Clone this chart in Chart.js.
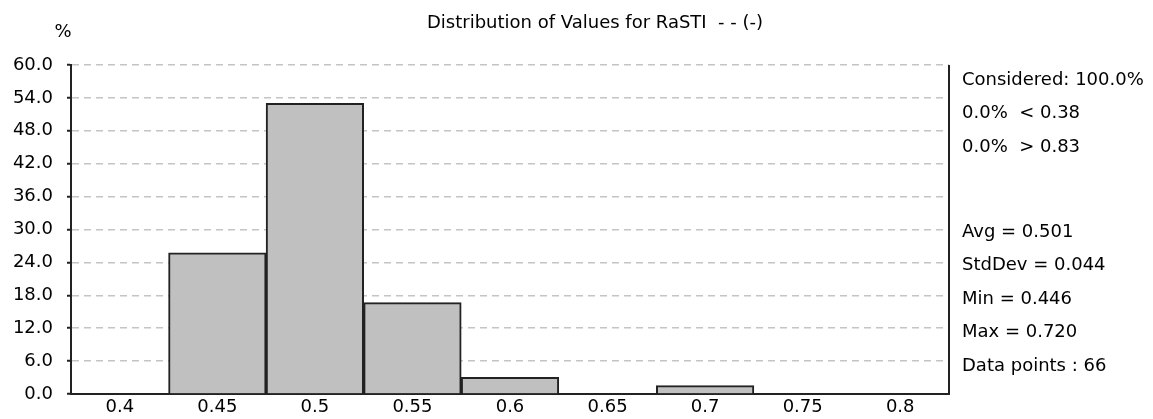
<!DOCTYPE HTML>
<html>

<head>
  <title>Distribution of Values for RaSTI</title>
  <script src="https://cdn.jsdelivr.net/npm/chart.js"></script>
  <style>
    body { margin: 0; background: #ffffff; }
  </style>
</head>

<body>
  <canvas id="myChart" width="1153" height="419"></canvas>

  <script type="text/javascript">
    // histogram bins (RaSTI values) and share of data points in percent
    var binLabels = ["0.4", "0.45", "0.5", "0.55", "0.6", "0.65", "0.7", "0.75", "0.8"];
    var percentValues = [0, 25.76, 53.03, 16.67, 3.03, 0, 1.52, 0, 0];

    var titleText = "Distribution of Values for RaSTI  - - (-)";
    var unitText = "%";
    var rangeLines = ["Considered: 100.0%", "0.0%  < 0.38", "0.0%  > 0.83"];
    var statLines = ["Avg = 0.501", "StdDev = 0.044", "Min = 0.446", "Max = 0.720", "Data points : 66"];

    var font = "DejaVu Sans";

    var textPlugin = {
      id: 'textPlugin',
      afterDraw: function (chart) {
        var c = chart.ctx;
        var area = chart.chartArea;
        c.save();

        // right frame line
        c.beginPath();
        c.lineWidth = 2;
        c.strokeStyle = '#222222';
        c.moveTo(area.right, area.top);
        c.lineTo(area.right, area.bottom + 1);
        c.stroke();

        c.fillStyle = '#000000';
        c.font = '18px "' + font + '"';
        c.textBaseline = 'middle';
        c.textAlign = 'left';
        c.fillText(titleText, 427, 23);
        c.textAlign = 'center';
        c.fillText(unitText, 63, 32);

        c.textAlign = 'left';
        var x = area.right + 13;
        for (var i = 0; i < rangeLines.length; i++) {
          c.fillText(rangeLines[i], x, 80 + i * 33.5);
        }
        for (var j = 0; j < statLines.length; j++) {
          c.fillText(statLines[j], x, 232 + j * 33.5);
        }
        c.restore();
      }
    };

    const ctx = document.getElementById('myChart');

    var myChart = new Chart(ctx, {
      type: "bar",
      data: {
        labels: binLabels,
        datasets: [
          {
            label: "%",
            data: percentValues,
            backgroundColor: '#c0c0c0',
            borderColor: '#222222',
            borderWidth: 2,
            barPercentage: 1.0,
            categoryPercentage: 1.0,
          },
        ],
      },
      options: {
        responsive: false,
        animation: false,
        devicePixelRatio: 1,
        layout: {
          padding: { top: 65, right: 204, bottom: 0, left: 0 }
        },
        plugins: {
          legend: { display: false },
          tooltip: { enabled: false },
          title: { display: false }
        },
        scales: {
          x: {
            grid: { display: false, drawTicks: false, tickLength: 0 },
            border: { display: true, color: '#222222', width: 2 },
            ticks: {
              color: '#000000',
              padding: 3,
              maxRotation: 0,
              font: { family: font, size: 18 }
            },
            afterFit: function (scale) { scale.height = 25; }
          },
          y: {
            min: 0,
            max: 60,
            grid: {
              color: function (c) { return c.tick && c.tick.value === 0 ? 'rgba(0,0,0,0)' : '#c4c4c4'; },
              lineWidth: 1.5,
              tickColor: '#222222',
              tickWidth: 2,
              tickLength: 4,
              tickBorderDash: []
            },
            border: { display: true, color: '#222222', width: 2, dash: [7, 5] },
            ticks: {
              stepSize: 6,
              color: '#000000',
              padding: 14,
              font: { family: font, size: 18 },
              callback: function (v) { return Number(v).toFixed(1); }
            },
            afterFit: function (scale) { scale.width = 71; }
          }
        }
      },
      plugins: [textPlugin],
    });
  </script>
</body>

</html>
